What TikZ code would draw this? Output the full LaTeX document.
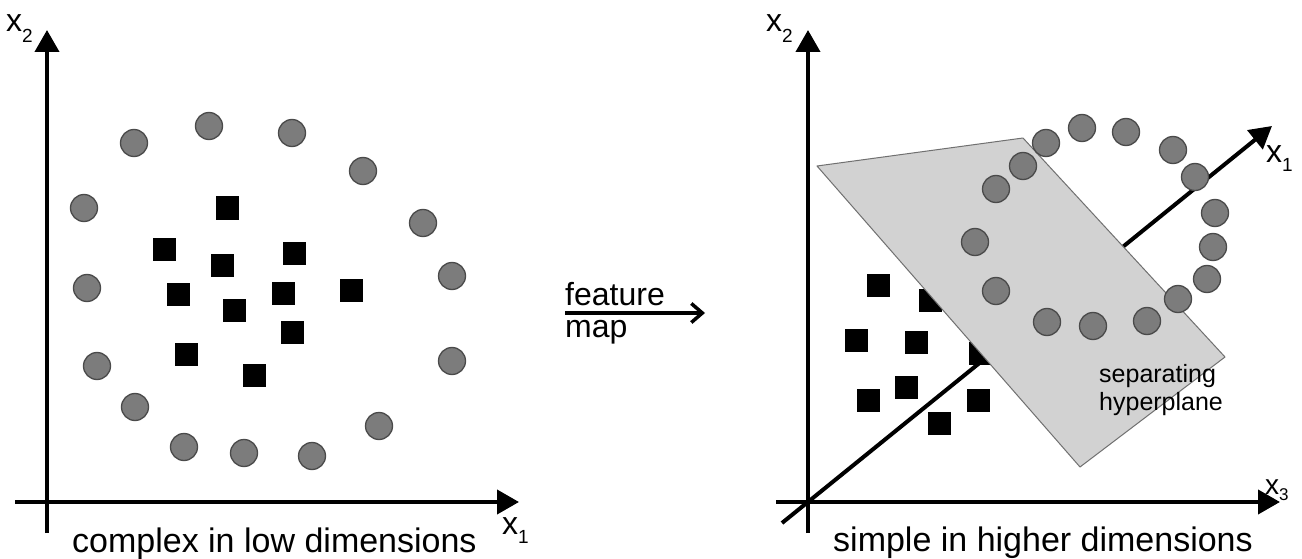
\documentclass[tikz,border=0pt]{standalone}
\usepackage{fontspec}
\setmainfont{Liberation Sans}
\usetikzlibrary{arrows.meta}
\definecolor{dotfill}{HTML}{7C7C7C}
\definecolor{dotline}{HTML}{4A4A4A}
\definecolor{planefill}{HTML}{D2D2D2}
\definecolor{planeline}{HTML}{707070}
\begin{document}
\begin{tikzpicture}[x=1pt,y=-1pt,
  axis/.style={line width=4pt, -{Triangle[length=22pt,width=24pt]}},
  dot/.style={circle, draw=dotline, line width=1.3pt, fill=dotfill, minimum size=27pt, inner sep=0pt},
  sq/.style={rectangle, fill=black, minimum size=23pt, inner sep=0pt},
  lbl/.style={inner sep=0pt, anchor=base west, font=\fontsize{32}{36}\selectfont},
  captext/.style={inner sep=0pt, anchor=base west, font=\fontsize{34}{40}\selectfont},
  smalltext/.style={inner sep=0pt, anchor=base west, font=\fontsize{25}{28}\selectfont},
]
\useasboundingbox (0,0) rectangle (1302,559);
\fill[white] (0,0) rectangle (1302,559);

% ---------- left panel ----------
\coordinate (Lv0) at (47,533);
\coordinate (Lv1) at (47,30);
\coordinate (Lh0) at (15,502);
\coordinate (Lh1) at (519,502);
\draw[axis] (Lv0) -- (Lv1);
\draw[axis] (Lh0) -- (Lh1);

\foreach \x/\y [count=\i] in {134/143,209/126,292/133,363/171,84/208,423/223,87/288,452/276,97/366,452/361,135/407,379/426,184/447,244/453,312/456}
  \node[dot] (lc\i) at (\x,\y) {};
\foreach \x/\y [count=\i] in {227/208,164/249,294/253,222/265,178/294,283/293,351/290,234/310,292/332,186/354,254/375}
  \node[sq] (ls\i) at (\x,\y) {};

\node[lbl] (Lx2) at (6,32) {x\raisebox{-11pt}{\fontsize{19}{20}\selectfont 2}};
\node[lbl] (Lx1) at (502,534) {x\raisebox{-9pt}{\fontsize{19}{20}\selectfont 1}};
\node[captext] (Lcap) at (72,552) {complex in low dimensions};

% ---------- feature map ----------
\coordinate (fm0) at (565,313);
\coordinate (fm1) at (705,313);
\draw[line width=3.5pt, -{Straight Barb[length=11pt,width=19pt,line width=3.5pt]}] (fm0) -- (fm1);
\node[lbl] (feat) at (565,305) {feature};
\node[lbl] (map) at (565,337) {map};

% ---------- right panel ----------
\coordinate (Rv0) at (808,533);
\coordinate (Rv1) at (808,30);
\coordinate (Rh0) at (776,502);
\coordinate (Rh1) at (1280,502);
\coordinate (Rd0) at (782,523);
\coordinate (Rd1) at (1272,126);
\draw[axis] (Rv0) -- (Rv1);
\draw[axis] (Rh0) -- (Rh1);
\draw[axis] (Rd0) -- (Rd1);

\foreach \x/\y [count=\i] in {878/285,930/300,856/340,916/342,980/353,906/387,868/400,978/400,939/423}
  \node[sq] (rs\i) at (\x,\y) {};

\coordinate (p1) at (817,166);
\coordinate (p2) at (1023,138);
\coordinate (p3) at (1225,357);
\coordinate (p4) at (1080,467);
\draw[fill=planefill, draw=planeline, line width=1pt, line join=round] (p1) -- (p2) -- (p3) -- (p4) -- cycle;

\foreach \x/\y [count=\i] in {1046/143,1082/128,1126/132,1173/150,1195/177,1023/166,996/189,1215/213,1213/247,975/242,1207/279,996/291,1178/299,1147/321,1093/326,1047/322}
  \node[dot] (rc\i) at (\x,\y) {};

\node[smalltext] (sep1) at (1099,382) {separating};
\node[smalltext] (sep2) at (1099,410) {hyperplane};

\node[lbl] (Rx2) at (766,32) {x\raisebox{-11pt}{\fontsize{19}{20}\selectfont 2}};
\node[lbl] (Rx1) at (1266,163) {x\raisebox{-9pt}{\fontsize{19}{20}\selectfont 1}};
\node[captext] (Rcap) at (833,551) {simple in higher dimensions};
\node[inner sep=0pt, anchor=base west, font=\fontsize{28}{30}\selectfont] (Rx3) at (1265,494) {x\raisebox{-6pt}{\fontsize{17}{18}\selectfont 3}};
\end{tikzpicture}
\end{document}
